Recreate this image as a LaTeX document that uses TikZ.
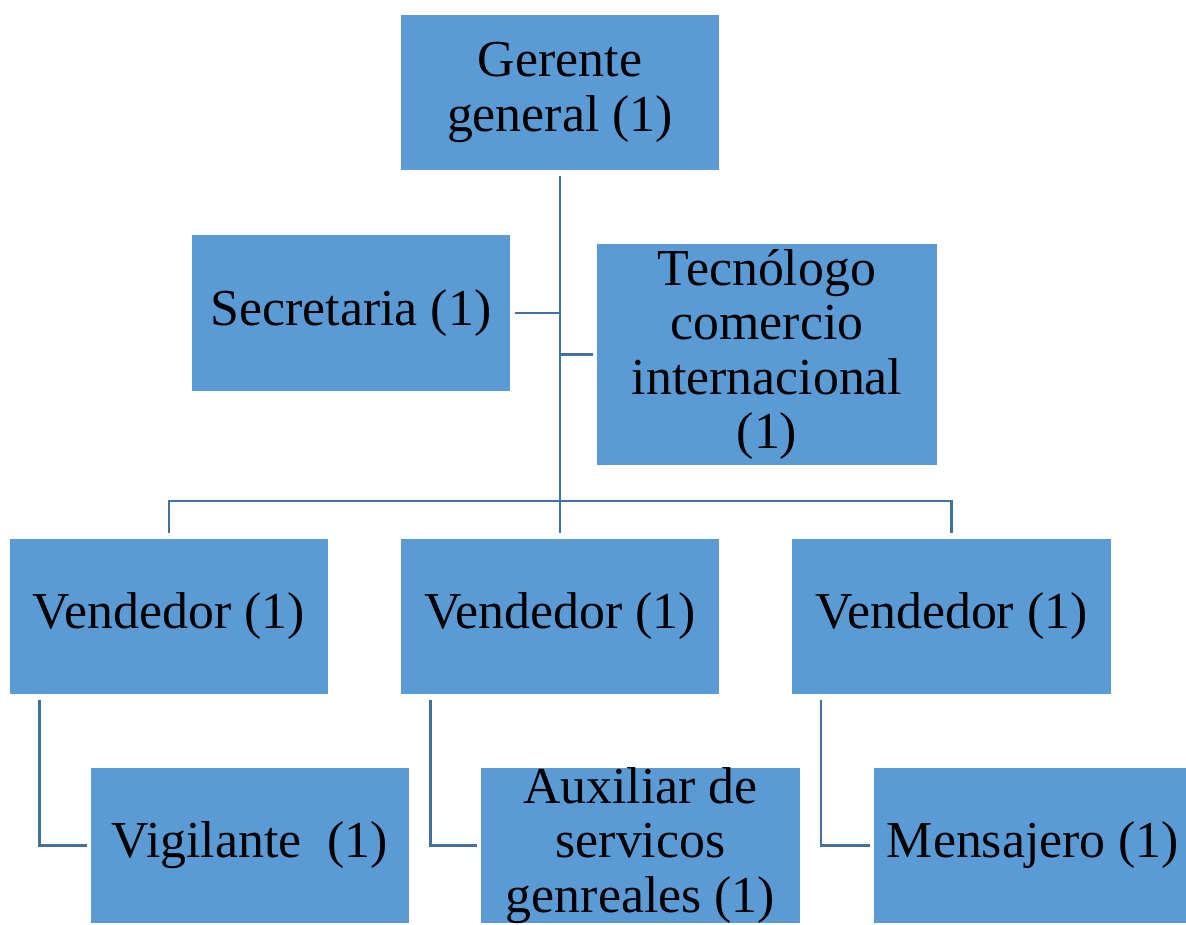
\documentclass[tikz,border=0pt]{standalone}
\usepackage{fontspec}
\setmainfont{Liberation Serif}
\definecolor{boxfill}{RGB}{91,155,213}
\definecolor{linec}{RGB}{65,113,156}
\begin{document}
\begin{tikzpicture}[x=0.02cm,y=-0.02cm,
  box/.style={rectangle, fill=boxfill, draw=white, line width=0.6pt, inner sep=0pt, align=center,
    font=\fontsize{29.5}{31}\selectfont, text=black},
  conn/.style={draw=linec, line width=1.3pt}]
\useasboundingbox (0,0) rectangle (1186,924);
\node[box, minimum width=6.4cm, minimum height=3.14cm] (g) at (560,92.5) {Gerente\\general (1)};
\node[box, minimum width=6.4cm, minimum height=3.16cm] (s) at (351,313) {Secretaria (1)};
\node[box, minimum width=6.84cm, minimum height=4.46cm] (t) at (767,354.5) {Tecnólogo\\comercio\\internacional\\(1)};
\node[box, minimum width=6.4cm, minimum height=3.14cm] (v1) at (169,616.5) {Vendedor (1)};
\node[box, minimum width=6.4cm, minimum height=3.14cm] (v2) at (560,616.5) {Vendedor (1)};
\node[box, minimum width=6.4cm, minimum height=3.14cm] (v3) at (951.5,616.5) {Vendedor (1)};
\node[box, minimum width=6.4cm, minimum height=3.14cm] (vig) at (250,845.5) {Vigilante\ \ (1)};
\node[box, minimum width=6.4cm, minimum height=3.14cm] (aux) at (640.5,845.5) {Auxiliar de\\servicos\\genreales (1)};
\node[box, minimum width=6.4cm, minimum height=3.14cm] (men) at (1033,845.5) {Mensajero (1)};
\coordinate (bus) at (560,501);
\draw[conn] ([yshift=-0.08cm]g.south) -- ([yshift=0.1cm]v2.north);
\draw[conn] ([xshift=0.06cm]s.east) -- (s.east -| g.south);
\draw[conn] ([xshift=-0.06cm]t.west) -- (t.west -| g.south);
\draw[conn] ([yshift=0.1cm]v1.north) |- (bus) -| ([yshift=0.1cm]v3.north);
\draw[conn] ([xshift=0.62cm,yshift=-0.08cm]v1.south west) |- ([xshift=-0.06cm]vig.west);
\draw[conn] ([xshift=0.62cm,yshift=-0.08cm]v2.south west) |- ([xshift=-0.06cm]aux.west);
\draw[conn] ([xshift=0.6cm,yshift=-0.08cm]v3.south west) |- ([xshift=-0.06cm]men.west);
\end{tikzpicture}
\end{document}
